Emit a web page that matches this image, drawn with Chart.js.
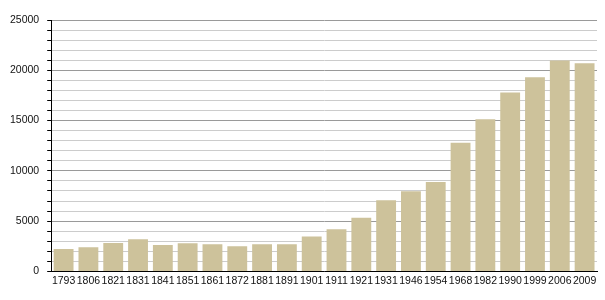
<!DOCTYPE html>
<html>
<head>
<meta charset="utf-8">
<script src="https://cdn.jsdelivr.net/npm/chart.js@4"></script>
<style>
  html, body { margin: 0; padding: 0; background: #fff; }
  #wrap { width: 605px; height: 300px; position: relative; }
</style>
</head>
<body>
<div id="wrap"><canvas id="chart"></canvas></div>
<script>
const years = ['1793', '1806', '1821', '1831', '1841', '1851', '1861', '1872', '1881', '1891',
  '1901', '1911', '1921', '1931', '1946', '1954', '1968', '1982', '1990', '1999', '2006', '2009'];
const population = [2230, 2400, 2830, 3200, 2630, 2800, 2700, 2500, 2700, 2700,
  3470, 4200, 5330, 7070, 7970, 8900, 12800, 15130, 17800, 19300, 20970, 20700];
const yMax = 25000;
const yStep = 1000;
const yLabelStep = 5000;

const BAR = '#cdc29b';
const MAJOR = '#9a9a9a';
const MINOR = '#cccccc';
const TEXT = '#111';
const FONT = { family: 'Liberation Sans, Arial', size: 10.5 };

new Chart(document.getElementById('chart'), {
  type: 'bar',
  data: {
    labels: years,
    datasets: [{
      data: population,
      backgroundColor: BAR,
      borderWidth: 0,
      barPercentage: 0.8,
      categoryPercentage: 1,
    }],
  },
  options: {
    responsive: true,
    maintainAspectRatio: false,
    animation: false,
    layout: { padding: { top: 20, right: 8, bottom: 10, left: 2 } },
    plugins: { legend: { display: false }, tooltip: { enabled: false } },
    scales: {
      x: {
        grid: { display: false, drawTicks: false },
        border: { color: '#000', width: 1 },
        ticks: { color: TEXT, font: FONT, padding: 3, maxRotation: 0, autoSkip: false },
      },
      y: {
        min: 0,
        max: yMax,
        border: { color: '#000', width: 1 },
        grid: {
          color: (ctx) => (ctx.tick && ctx.tick.value % yLabelStep === 0 ? MAJOR : MINOR),
          tickColor: '#000',
          tickLength: 4,
        },
        ticks: {
          stepSize: yStep,
          autoSkip: false,
          color: TEXT,
          padding: 8,
          font: FONT,
          callback: (v) => (v % yLabelStep === 0 ? String(v) : ''),
        },
      },
    },
  },
});
</script>
</body>
</html>
